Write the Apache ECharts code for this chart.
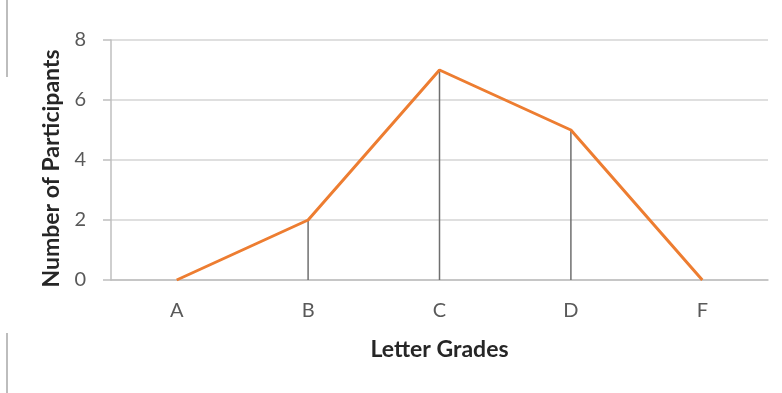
<!DOCTYPE html>
<html>
<head>
<meta charset="utf-8">
<script src="https://cdn.jsdelivr.net/npm/echarts@6/dist/echarts.min.js"></script>
<style>
  html, body { margin: 0; padding: 0; background: #fff; }
  #chart { width: 782px; height: 393px; }
</style>
</head>
<body>
<div id="chart"></div>
<script>
// letter grade categories and participant counts
var grades = ['A', 'B', 'C', 'D', 'F'];
var participants = [0, 2, 7, 5, 0];

var myChart = echarts.init(document.getElementById('chart'));
myChart.setOption({
  animation: false,
  textStyle: { fontFamily: 'Lato' },
  grid: { left: 111, right: 14, top: 40, bottom: 113 },
  graphic: [
    // faint page border on the left (broken where the chart image sits)
    { type: 'line', shape: { x1: 7, y1: 0, x2: 7, y2: 77 }, style: { stroke: '#bdbdbd', lineWidth: 2 } },
    { type: 'line', shape: { x1: 7, y1: 333, x2: 7, y2: 393 }, style: { stroke: '#bdbdbd', lineWidth: 2 } }
  ],
  xAxis: {
    type: 'category',
    data: grades,
    boundaryGap: true,
    name: 'Letter Grades',
    nameLocation: 'middle',
    nameGap: 58,
    nameTextStyle: { fontSize: 23, fontWeight: 'bold', color: '#262626' },
    axisLine: { lineStyle: { color: '#bfbfbf', width: 1.5 } },
    axisTick: { show: false },
    axisLabel: { fontSize: 20, color: '#595959', margin: 21 }
  },
  yAxis: {
    type: 'value',
    min: 0,
    max: 8,
    interval: 2,
    name: 'Number of Participants',
    nameLocation: 'middle',
    nameGap: 46,
    // padding on the right pushes the rotated title a bit lower
    nameTextStyle: { fontSize: 23, fontWeight: 'bold', color: '#262626', padding: [0, 17, 0, 0] },
    axisLine: { show: true, lineStyle: { color: '#bfbfbf', width: 1.5 } },
    axisTick: { show: true, length: 8, lineStyle: { color: '#bfbfbf', width: 1.5 } },
    axisLabel: { fontSize: 20, color: '#595959', margin: 25 },
    splitLine: { lineStyle: { color: '#d4d4d4', width: 1.5 } }
  },
  series: [
    {
      // drop lines from each point down to the axis
      type: 'bar',
      data: participants,
      barWidth: 1.5,
      itemStyle: { color: '#6f6f6f' },
      silent: true
    },
    {
      type: 'line',
      data: participants,
      symbol: 'none',
      lineStyle: { color: '#ED7D31', width: 3 },
      z: 3
    }
  ]
});
</script>
</body>
</html>
